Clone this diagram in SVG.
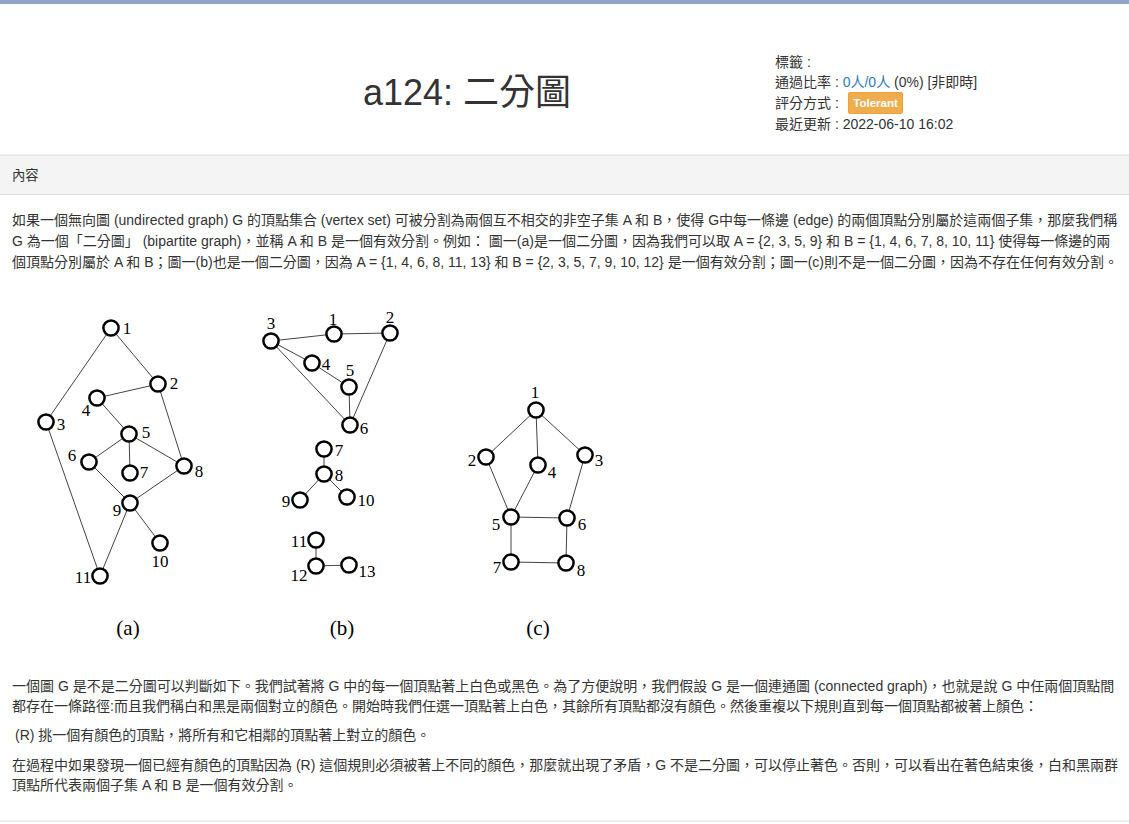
<svg xmlns="http://www.w3.org/2000/svg" width="1129" height="824" viewBox="0 0 1129 824">
<style>
.t{font-family:"Liberation Sans","Noto Sans CJK TC",sans-serif;font-size:14px;fill:#333}
.h{font-family:"Liberation Sans","Noto Sans CJK TC",sans-serif;font-size:14px;fill:#333}
.lk{fill:#337ab7}
.n{fill:#fff;stroke:#000;stroke-width:2.5}
.e{stroke:#444;stroke-width:1;fill:none}
.l{font-family:"Liberation Serif","Times New Roman",serif;font-size:17px;fill:#000;text-anchor:middle;dominant-baseline:central}
.cap{font-family:"Liberation Serif","Times New Roman",serif;font-size:21px;fill:#000;text-anchor:middle}
</style>
<rect x="0" y="0" width="1129" height="824" fill="#fff"/>
<rect x="0" y="0" width="1129" height="4" fill="#8fa5c7"/>
<g id="header">
<text x="467" y="105" text-anchor="middle" style="font-family:'Liberation Sans','Noto Sans CJK TC',sans-serif;font-size:36px;fill:#333">a124: 二分圖</text>
<text class="h" x="775" y="67">標籤 :</text>
<text class="h" x="775" y="87">通過比率 : <tspan class="lk">0人/0人</tspan> (0%) [非即時]</text>
<text class="h" x="775" y="108">評分方式 :</text>
<rect x="848.5" y="92.5" width="54" height="21" rx="1" fill="#f0ad4e" stroke="#eea236"/>
<text x="875.5" y="107" text-anchor="middle" style="font-family:'Liberation Sans',sans-serif;font-size:11.5px;font-weight:bold;fill:#fff">Tolerant</text>
<text class="h" x="775" y="129">最近更新 : 2022-06-10 16:02</text>
</g>
<g id="section">
<rect x="0" y="155" width="1129" height="40" fill="#f4f4f4"/>
<line x1="0" y1="155" x2="1129" y2="155" stroke="#ddd"/>
<line x1="0" y1="194.5" x2="1129" y2="194.5" stroke="#ddd"/>
<text x="12" y="180" style="font-family:'Liberation Sans','Noto Sans CJK TC',sans-serif;font-size:13.3px;fill:#333">內容</text>
</g>
<g id="para1">
<text class="t" x="12" y="225">如果一個無向圖 (undirected graph) G 的頂點集合 (vertex set) 可被分割為兩個互不相交的非空子集 A 和 B，使得 G中每一條邊 (edge) 的兩個頂點分別屬於這兩個子集，那麼我們稱</text>
<text class="t" x="12" y="246">G 為一個「二分圖」 (bipartite graph)，並稱 A 和 B 是一個有效分割。例如： 圖一(a)是一個二分圖，因為我們可以取 A = {2, 3, 5, 9} 和 B = {1, 4, 6, 7, 8, 10, 11} 使得每一條邊的兩</text>
<text class="t" x="12" y="267">個頂點分別屬於 A 和 B；圖一(b)也是一個二分圖，因為 A = {1, 4, 6, 8, 11, 13} 和 B = {2, 3, 5, 7, 9, 10, 12} 是一個有效分割；圖一(c)則不是一個二分圖，因為不存在任何有效分割。</text>
</g>
<g id="connectors">
<!-- (a) -->
<line class="e" x1="111" y1="328" x2="46" y2="422"/>
<line class="e" x1="111" y1="328" x2="158" y2="384"/>
<line class="e" x1="158" y1="384" x2="97" y2="398"/>
<line class="e" x1="158" y1="384" x2="184" y2="466"/>
<line class="e" x1="97" y1="398" x2="129" y2="434"/>
<line class="e" x1="129" y1="434" x2="89" y2="462"/>
<line class="e" x1="129" y1="434" x2="130" y2="473"/>
<line class="e" x1="129" y1="434" x2="184" y2="466"/>
<line class="e" x1="89" y1="462" x2="130" y2="503"/>
<line class="e" x1="184" y1="466" x2="130" y2="503"/>
<line class="e" x1="130" y1="503" x2="160" y2="543"/>
<line class="e" x1="130" y1="503" x2="100" y2="576"/>
<line class="e" x1="46" y1="422" x2="100" y2="576"/>
<!-- (b) -->
<line class="e" x1="271" y1="341" x2="334" y2="334"/>
<line class="e" x1="334" y1="334" x2="390" y2="333"/>
<line class="e" x1="271" y1="341" x2="312" y2="363"/>
<line class="e" x1="312" y1="363" x2="349" y2="387"/>
<line class="e" x1="349" y1="387" x2="350" y2="425"/>
<line class="e" x1="271" y1="341" x2="350" y2="425"/>
<line class="e" x1="390" y1="333" x2="350" y2="425"/>
<line class="e" x1="324" y1="449" x2="324" y2="474"/>
<line class="e" x1="324" y1="474" x2="300" y2="500"/>
<line class="e" x1="324" y1="474" x2="347" y2="497"/>
<line class="e" x1="316" y1="540" x2="316" y2="566"/>
<line class="e" x1="316" y1="566" x2="349" y2="565"/>
<!-- (c) -->
<line class="e" x1="536" y1="410" x2="486" y2="457"/>
<line class="e" x1="536" y1="410" x2="538" y2="465"/>
<line class="e" x1="536" y1="410" x2="585" y2="455"/>
<line class="e" x1="486" y1="457" x2="511" y2="517"/>
<line class="e" x1="538" y1="465" x2="511" y2="517"/>
<line class="e" x1="585" y1="455" x2="567" y2="518"/>
<line class="e" x1="511" y1="517" x2="567" y2="518"/>
<line class="e" x1="511" y1="517" x2="511" y2="562"/>
<line class="e" x1="567" y1="518" x2="566" y2="563"/>
<line class="e" x1="511" y1="562" x2="566" y2="563"/>
</g>
<g id="a1"><circle class="n" cx="111" cy="328" r="7.6"/><text class="l" x="127" y="328">1</text></g>
<g id="a2"><circle class="n" cx="158" cy="384" r="7.6"/><text class="l" x="174" y="383">2</text></g>
<g id="a3"><circle class="n" cx="46" cy="422" r="7.6"/><text class="l" x="61" y="424">3</text></g>
<g id="a4"><circle class="n" cx="97" cy="398" r="7.6"/><text class="l" x="86" y="410">4</text></g>
<g id="a5"><circle class="n" cx="129" cy="434" r="7.6"/><text class="l" x="146" y="432">5</text></g>
<g id="a6"><circle class="n" cx="89" cy="462" r="7.6"/><text class="l" x="72" y="455">6</text></g>
<g id="a7"><circle class="n" cx="130" cy="473" r="7.6"/><text class="l" x="144" y="472">7</text></g>
<g id="a8"><circle class="n" cx="184" cy="466" r="7.6"/><text class="l" x="199" y="471">8</text></g>
<g id="a9"><circle class="n" cx="130" cy="503" r="7.6"/><text class="l" x="117" y="510">9</text></g>
<g id="a10"><circle class="n" cx="160" cy="543" r="7.6"/><text class="l" x="160" y="561">10</text></g>
<g id="a11"><circle class="n" cx="100" cy="576" r="7.6"/><text class="l" x="83" y="577">11</text></g>
<g id="b1"><circle class="n" cx="334" cy="334" r="7.6"/><text class="l" x="333" y="319">1</text></g>
<g id="b2"><circle class="n" cx="390" cy="333" r="7.6"/><text class="l" x="390" y="317">2</text></g>
<g id="b3"><circle class="n" cx="271" cy="341" r="7.6"/><text class="l" x="271" y="323">3</text></g>
<g id="b4"><circle class="n" cx="312" cy="363" r="7.6"/><text class="l" x="326" y="364">4</text></g>
<g id="b5"><circle class="n" cx="349" cy="387" r="7.6"/><text class="l" x="350" y="370">5</text></g>
<g id="b6"><circle class="n" cx="350" cy="425" r="7.6"/><text class="l" x="364" y="428">6</text></g>
<g id="b7"><circle class="n" cx="324" cy="449" r="7.6"/><text class="l" x="339" y="450">7</text></g>
<g id="b8"><circle class="n" cx="324" cy="474" r="7.6"/><text class="l" x="339" y="475">8</text></g>
<g id="b9"><circle class="n" cx="300" cy="500" r="7.6"/><text class="l" x="286" y="501">9</text></g>
<g id="b10"><circle class="n" cx="347" cy="497" r="7.6"/><text class="l" x="366" y="500">10</text></g>
<g id="b11"><circle class="n" cx="316" cy="540" r="7.6"/><text class="l" x="299" y="541">11</text></g>
<g id="b12"><circle class="n" cx="316" cy="566" r="7.6"/><text class="l" x="299" y="575">12</text></g>
<g id="b13"><circle class="n" cx="349" cy="565" r="7.6"/><text class="l" x="367" y="571">13</text></g>
<g id="c1"><circle class="n" cx="536" cy="410" r="7.6"/><text class="l" x="535" y="392">1</text></g>
<g id="c2"><circle class="n" cx="486" cy="457" r="7.6"/><text class="l" x="472" y="460">2</text></g>
<g id="c3"><circle class="n" cx="585" cy="455" r="7.6"/><text class="l" x="599" y="460">3</text></g>
<g id="c4"><circle class="n" cx="538" cy="465" r="7.6"/><text class="l" x="552" y="472">4</text></g>
<g id="c5"><circle class="n" cx="511" cy="517" r="7.6"/><text class="l" x="496" y="524">5</text></g>
<g id="c6"><circle class="n" cx="567" cy="518" r="7.6"/><text class="l" x="582" y="524">6</text></g>
<g id="c7"><circle class="n" cx="511" cy="562" r="7.6"/><text class="l" x="497" y="567">7</text></g>
<g id="c8"><circle class="n" cx="566" cy="563" r="7.6"/><text class="l" x="581" y="570">8</text></g>
<g id="captions">
<text class="cap" x="128" y="635">(a)</text>
<text class="cap" x="342" y="635">(b)</text>
<text class="cap" x="538" y="635">(c)</text>
</g>
<g id="para2">
<text class="t" x="12" y="691">一個圖 G 是不是二分圖可以判斷如下。我們試著將 G 中的每一個頂點著上白色或黑色。為了方便說明，我們假設 G 是一個連通圖 (connected graph)，也就是說 G 中任兩個頂點間</text>
<text class="t" x="12" y="711">都存在一條路徑:而且我們稱白和黑是兩個對立的顏色。開始時我們任選一頂點著上白色，其餘所有頂點都沒有顏色。然後重複以下規則直到每一個頂點都被著上顏色：</text>
<text class="t" x="15" y="740">(R) 挑一個有顏色的頂點，將所有和它相鄰的頂點著上對立的顏色。</text>
<text class="t" x="12" y="770">在過程中如果發現一個已經有顏色的頂點因為 (R) 這個規則必須被著上不同的顏色，那麼就出現了矛盾，G 不是二分圖，可以停止著色。否則，可以看出在著色結束後，白和黑兩群</text>
<text class="t" x="12" y="790">頂點所代表兩個子集 A 和 B 是一個有效分割。</text>
</g>
<line x1="0" y1="821" x2="1129" y2="821" stroke="#ddd"/>
</svg>
